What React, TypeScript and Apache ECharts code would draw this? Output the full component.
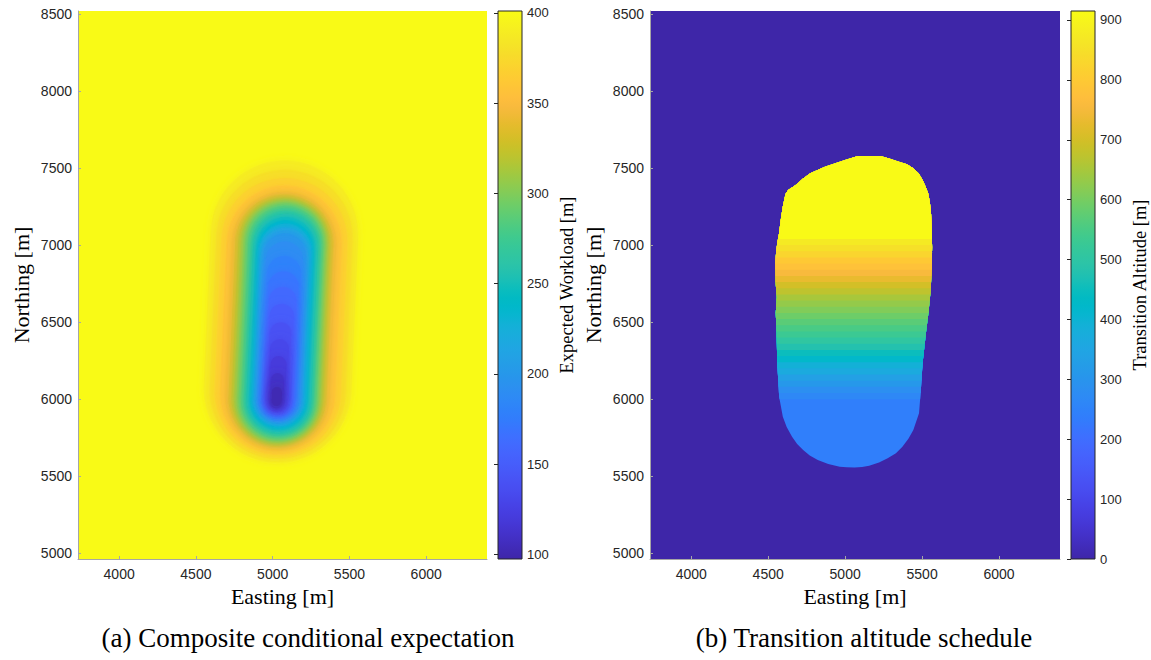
import React, { useEffect, useRef } from "react";
import * as echarts from "echarts";

// ---------- axes (shared by both panels) ----------
const eastingRange = [3732, 6396];
const northingRange = [4963, 8519];
const eastingTicks = [4000, 4500, 5000, 5500, 6000];
const northingTicks = [5000, 5500, 6000, 6500, 7000, 7500, 8000, 8500];

// ---------- (a) expected workload ----------
const workloadRange = [97.4, 401];
const workloadTicks = [100, 150, 200, 250, 300, 350, 400];
const workloadBackground = 400;
const trackTiltDeg = 2.5; // lean of the track (top further east)
// iso-levels: value, west, east, south, north
const workloadLevels = [
  [390, 4575, 5535, 5590, 7550],
  [380, 4612, 5500, 5615, 7490],
  [370, 4646, 5466, 5640, 7436],
  [360, 4680, 5430, 5662, 7386],
  [350, 4712, 5396, 5682, 7347],
  [340, 4735, 5372, 5695, 7328],
  [330, 4755, 5352, 5707, 7310],
  [320, 4772, 5336, 5718, 7295],
  [310, 4788, 5322, 5727, 7283],
  [300, 4803, 5310, 5737, 7272],
  [290, 4818, 5298, 5748, 7258],
  [280, 4833, 5287, 5760, 7240],
  [270, 4848, 5275, 5773, 7222],
  [260, 4862, 5263, 5786, 7203],
  [250, 4876, 5250, 5800, 7184],
  [240, 4888, 5238, 5812, 7162],
  [230, 4898, 5226, 5825, 7140],
  [220, 4908, 5215, 5838, 7118],
  [210, 4916, 5205, 5850, 7098],
  [200, 4924, 5196, 5862, 7078],
  [190, 4936, 5180, 5872, 7025],
  [180, 4946, 5168, 5882, 6930],
  [170, 4955, 5155, 5890, 6830],
  [160, 4962, 5142, 5898, 6730],
  [150, 4968, 5128, 5906, 6620],
  [140, 4973, 5114, 5914, 6500],
  [130, 4977, 5100, 5922, 6390],
  [120, 4981, 5086, 5930, 6280],
  [110, 4986, 5072, 5940, 6170],
  [102, 4995, 5060, 5955, 6080],
];

// ---------- (b) transition altitude ----------
const altitudeRange = [0, 915];
const altitudeTicks = [0, 100, 200, 300, 400, 500, 600, 700, 800, 900];
const altitudeBackground = 0;
// blob outline: [northing, easting]
const blobWestEdge = [
  [5556, 5061], [5558, 5010], [5562, 4965], [5580, 4890], [5605, 4822], [5635, 4770],
  [5670, 4727], [5710, 4688], [5757, 4655], [5820, 4620], [5886, 4595], [6016, 4571],
  [6233, 4559], [6449, 4554], [6560, 4549], [6660, 4556], [6760, 4548], [6880, 4546],
  [6960, 4552], [7014, 4559], [7076, 4571], [7160, 4581], [7249, 4595], [7330, 4612],
  [7357, 4630], [7390, 4679], [7430, 4725], [7466, 4774], [7509, 4870], [7552, 5001],
  [7578, 5084],
];
const blobEastEdge = [
  [5556, 5061], [5560, 5110], [5568, 5156], [5590, 5220], [5616, 5276], [5650, 5330],
  [5692, 5372], [5745, 5412], [5800, 5443], [5908, 5480], [6060, 5492], [6233, 5503],
  [6449, 5527], [6560, 5541], [6700, 5555], [6850, 5563], [6989, 5565], [7100, 5562],
  [7206, 5558], [7280, 5550], [7336, 5539], [7380, 5522], [7422, 5503], [7465, 5478],
  [7498, 5443], [7525, 5400], [7541, 5348], [7560, 5290], [7578, 5228],
];
// altitude bands: value applies from this northing upward (inside the blob)
const altitudeBandStart = [5540, 6000, 6040, 6080, 6120, 6160, 6200, 6240, 6280, 6320, 6360, 6400, 6440, 6480, 6520, 6560, 6600, 6640, 6680, 6720, 6760, 6800, 6840, 6880, 6920, 6960, 7000, 7040];
const altitudeBandValue = [240, 265, 285, 310, 335, 365, 390, 420, 450, 480, 505, 530, 550, 570, 590, 610, 630, 650, 675, 700, 730, 755, 780, 800, 825, 850, 875, 912];

// parula colormap
const parula = [
  "#3E26A8", "#402AB4", "#422EC0", "#4432CB", "#4537D5", "#463CDE", "#4741E5", "#4747EB",
  "#484DF0", "#4852F4", "#4758F8", "#465EFB", "#4563FD", "#4269FE", "#3E6FFF", "#3875FE",
  "#327CFC", "#2F81FA", "#2E87F7", "#2D8CF3", "#2B91EF", "#2796EB", "#259BE8", "#23A0E5",
  "#20A5E3", "#1CA9DF", "#18ADDB", "#12B1D6", "#08B5D0", "#01B8CA", "#02BAC3", "#0BBDBD",
  "#19BFB6", "#24C1AE", "#2CC4A7", "#31C69F", "#37C897", "#3FCA8E", "#4ACB84", "#57CC7A",
  "#64CD6F", "#72CD64", "#81CC59", "#8FCB4E", "#9DC943", "#ABC739", "#B9C431", "#C5C22A",
  "#D1BF27", "#DCBD29", "#E6BB2D", "#F0BA36", "#F8BA3D", "#FEBE3C", "#FEC338", "#FEC934",
  "#FCCF30", "#FAD62D", "#F7DC2A", "#F5E327", "#F5E924", "#F6EF20", "#F7F51B", "#F9FB15",
];

const TICK_FONT = "Liberation Sans";
const SERIF = "Liberation Serif";
const AX_GRAY = "#a6a6a6";
const plain = (v: number) => String(v);

function edgeAt(edge: number[][], n: number): number {
  for (let i = 0; i < edge.length - 1; i++) {
    const [n0, e0] = edge[i];
    const [n1, e1] = edge[i + 1];
    if (n >= n0 && n <= n1) {
      const f = n1 === n0 ? 0 : (n - n0) / (n1 - n0);
      return e0 + f * (e1 - e0);
    }
  }
  return edge[edge.length - 1][1];
}

function blobAbove(n0: number): number[][] {
  const west: number[][] = [];
  const east: number[][] = [];
  if (n0 > blobWestEdge[0][0]) west.push([edgeAt(blobWestEdge, n0), n0]);
  blobWestEdge.forEach((p) => { if (p[0] >= n0) west.push([p[1], p[0]]); });
  if (n0 > blobEastEdge[0][0]) east.push([edgeAt(blobEastEdge, n0), n0]);
  blobEastEdge.forEach((p) => { if (p[0] >= n0) east.push([p[1], p[0]]); });
  return west.concat(east.reverse());
}

function mainXAxis(gridIndex: number) {
  return {
    gridIndex, type: "value", min: eastingRange[0], max: eastingRange[1], position: "bottom", z: 5,
    axisLine: { show: true, lineStyle: { color: AX_GRAY, width: 1 } },
    axisTick: { show: true, inside: true, length: 3, customValues: eastingTicks, lineStyle: { color: AX_GRAY } },
    axisLabel: { customValues: eastingTicks, formatter: plain, color: "#262626", fontSize: 14, fontFamily: TICK_FONT, margin: 8 },
    splitLine: { show: false },
    name: "Easting [m]", nameLocation: "middle", nameGap: 26,
    nameTextStyle: { fontFamily: SERIF, fontSize: 22, color: "#000" },
  };
}
function mainYAxis(gridIndex: number) {
  return {
    gridIndex, type: "value", min: northingRange[0], max: northingRange[1], position: "left", z: 5,
    axisLine: { show: true, lineStyle: { color: AX_GRAY, width: 1 } },
    axisTick: { show: true, inside: true, length: 3, customValues: northingTicks, lineStyle: { color: AX_GRAY } },
    axisLabel: { customValues: northingTicks, formatter: plain, color: "#262626", fontSize: 14, fontFamily: TICK_FONT, margin: 6 },
    splitLine: { show: false },
    name: "Northing [m]", nameLocation: "middle", nameGap: 46, nameRotate: 90,
    nameTextStyle: { fontFamily: SERIF, fontSize: 22, color: "#000" },
  };
}
function barYAxis(gridIndex: number, range: number[], ticks: number[], name: string) {
  return {
    gridIndex, type: "value", min: range[0], max: range[1], position: "right", z: 5,
    axisLine: { show: false },
    axisTick: { show: true, inside: true, length: 4, customValues: ticks, lineStyle: { color: "#262626" } },
    axisLabel: { customValues: ticks, formatter: plain, color: "#262626", fontSize: 13, fontFamily: TICK_FONT, margin: 5 },
    splitLine: { show: false },
    name, nameLocation: "middle", nameGap: 35, nameRotate: 90,
    nameTextStyle: { fontFamily: SERIF, fontSize: 18.5, color: "#000" },
  };
}

function colorbarSeries(idx: number) {
  return {
    type: "custom", xAxisIndex: idx, yAxisIndex: idx, silent: true, z: 3,
    data: [[0]],
    renderItem: (params: any, api: any) => {
      const ax = params.coordSys;
      const grad = new echarts.graphic.LinearGradient(0, 1, 0, 0,
        parula.map((c, i) => ({ offset: i / (parula.length - 1), color: c })));
      return {
        type: "rect",
        shape: { x: ax.x, y: ax.y, width: ax.width, height: ax.height },
        style: { fill: grad, stroke: "#262626", lineWidth: 1 },
      };
    },
  };
}

function caption(text: string, x: number) {
  return {
    type: "text", x, y: 638, silent: true,
    style: { text, font: `27px "${SERIF}"`, fill: "#000",
      textAlign: "center", textVerticalAlign: "middle", align: "center", verticalAlign: "middle" },
  };
}

function buildOption() {
  const workloadData = [[workloadBackground, eastingRange[0], eastingRange[1], northingRange[0], northingRange[1], 0]]
    .concat(workloadLevels.map((l) => [l[0], l[1], l[2], l[3], l[4], 1]));
  const altitudeData = [[altitudeBackground, 0]].concat(
    altitudeBandStart.map((n, i) => [altitudeBandValue[i], n]));

  return {
    animation: false,
    backgroundColor: "#ffffff",
    grid: [
      { left: 78, top: 11, width: 409, height: 548, outerBoundsMode: "none" },
      { left: 650, top: 11, width: 410, height: 548, outerBoundsMode: "none" },
      { left: 498, top: 11, width: 24, height: 548, outerBoundsMode: "none" },
      { left: 1071, top: 11, width: 24, height: 548, outerBoundsMode: "none" },
    ],
    xAxis: [
      mainXAxis(0), mainXAxis(1),
      { gridIndex: 2, type: "value", min: 0, max: 1, show: false },
      { gridIndex: 3, type: "value", min: 0, max: 1, show: false },
    ],
    yAxis: [
      mainYAxis(0), mainYAxis(1),
      barYAxis(2, workloadRange, workloadTicks, "Expected Workload [m]"),
      barYAxis(3, altitudeRange, altitudeTicks, "Transition Altitude [m]"),
    ],
    visualMap: [
      { type: "continuous", show: false, seriesIndex: 0, dimension: 0, min: workloadRange[0], max: workloadRange[1], inRange: { color: parula } },
      { type: "continuous", show: false, seriesIndex: 1, dimension: 0, min: altitudeRange[0], max: altitudeRange[1], inRange: { color: parula } },
    ],
    series: [
      {
        type: "custom", xAxisIndex: 0, yAxisIndex: 0, clip: true, silent: true,
        data: workloadData,
        renderItem: (params: any, api: any) => {
          const p0 = api.coord([api.value(1), api.value(4)]);
          const p1 = api.coord([api.value(2), api.value(3)]);
          const w = p1[0] - p0[0];
          const h = p1[1] - p0[1];
          const rounded = api.value(5) === 1;
          const color = api.visual("color");
          if (!rounded) {
            return { type: "rect", shape: { x: p0[0], y: p0[1], width: w, height: h }, style: { fill: color } };
          }
          return {
            type: "rect",
            originX: p0[0] + w / 2,
            originY: p0[1] + h / 2,
            rotation: (-trackTiltDeg * Math.PI) / 180,
            shape: { x: p0[0], y: p0[1], width: w, height: h, r: Math.min(w, h) / 2 },
            style: { fill: color, shadowBlur: 8, shadowColor: color },
          };
        },
      },
      {
        type: "custom", xAxisIndex: 1, yAxisIndex: 1, clip: true, silent: true,
        data: altitudeData,
        renderItem: (params: any, api: any) => {
          const color = api.visual("color");
          const n0 = api.value(1);
          if (n0 < northingRange[0]) {
            const a = api.coord([eastingRange[0], northingRange[1]]);
            const b = api.coord([eastingRange[1], northingRange[0]]);
            return { type: "rect", shape: { x: a[0], y: a[1], width: b[0] - a[0], height: b[1] - a[1] }, style: { fill: color } };
          }
          const pts = blobAbove(n0).map((p) => api.coord(p));
          return { type: "polygon", shape: { points: pts }, style: { fill: color } };
        },
      },
      colorbarSeries(2),
      colorbarSeries(3),
    ],
    graphic: [
      caption("(a) Composite conditional expectation", 308),
      caption("(b) Transition altitude schedule", 864),
    ],
  };
}

export default function App() {
  const ref = useRef<HTMLDivElement>(null);
  useEffect(() => {
    if (!ref.current) return;
    const chart = echarts.init(ref.current, null, { renderer: "svg" });
    chart.setOption(buildOption() as any);
    return () => chart.dispose();
  }, []);
  return (
    <div
      ref={ref}
      style={{ position: "fixed", left: 0, top: 0, width: 1151, height: 660, background: "#fff" }}
    />
  );
}
